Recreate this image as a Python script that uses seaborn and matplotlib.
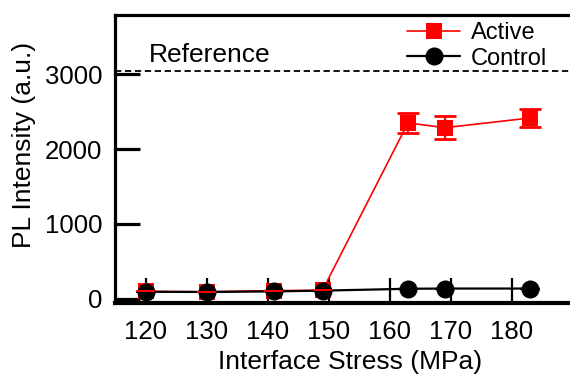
import pandas as pd
import matplotlib
matplotlib.use('Agg')
import matplotlib.pyplot as plt
import seaborn as sns

# values
stress = [120, 130, 141, 149, 163, 169, 183]
active = [100, 95, 110, 115, 2350, 2285, 2415]
active_err = [0, 0, 0, 0, 130, 155, 115]
control = [95, 92, 100, 110, 135, 138, 138]
stress_err = [1.6, 1.6, 1.6, 1.6, 1.6, 1.6, 1.6]
reference_level = 3040

df = pd.DataFrame({'stress': stress, 'active': active, 'control': control})

sns.set_style('ticks')
plt.rcParams['font.family'] = ['Liberation Sans', 'DejaVu Sans']
for key in ['text.color', 'axes.labelcolor', 'xtick.color', 'ytick.color',
            'axes.edgecolor']:
    plt.rcParams[key] = 'black'

fig = plt.figure(figsize=(5.7, 3.75), dpi=100)
# right spine sits just outside the canvas, as in the reference crop
ax = fig.add_axes([115 / 570, 1 - 303 / 375, 470 / 570, 288 / 375])

# reference level
ax.axhline(reference_level, color='black', lw=1.3, ls=(0, (3.5, 2)), zorder=1)
ax.text(120.6, 3254, 'Reference', fontsize=19, va='center', ha='left')

# horizontal bars of the control series
ax.errorbar(stress, control, xerr=stress_err, fmt='none', ecolor='black',
            elinewidth=1.6, capsize=0, zorder=2)

sns.lineplot(data=df, x='stress', y='active', ax=ax, color='red', lw=1.2,
             marker='s', markersize=11, markeredgecolor='red',
             markeredgewidth=0, label='Active', zorder=2)
sns.lineplot(data=df, x='stress', y='control', ax=ax, color='black', lw=1.6,
             marker='o', markersize=13, markeredgecolor='black',
             markeredgewidth=0, label='Control', zorder=3)

# red error bars (vertical on high points, horizontal on the low ones)
hi = [i for i, e in enumerate(active_err) if e > 0]
lo = [i for i, e in enumerate(active_err) if e == 0]
ax.errorbar([stress[i] for i in hi], [active[i] for i in hi],
            yerr=[active_err[i] for i in hi], fmt='none', ecolor='red',
            elinewidth=1.6, capsize=8, capthick=2, zorder=4)
ax.errorbar([stress[i] for i in lo], [active[i] for i in lo],
            xerr=[stress_err[i] for i in lo], fmt='none', ecolor='red',
            elinewidth=1.4, capsize=0, zorder=4)

ax.set_xlim(115, 192)
ax.set_ylim(-55, 3790)
ax.set_xticks([120, 130, 140, 150, 160, 170, 180])
ax.set_yticks([0, 1000, 2000, 3000])

ax.tick_params(axis='y', direction='in', length=18, width=2.3, pad=9,
               labelsize=18.5)
ax.tick_params(axis='x', direction='in', length=18, width=1.6, pad=12,
               labelsize=18.5)
for side in ['left', 'top', 'right']:
    ax.spines[side].set_linewidth(2.3)
ax.spines['bottom'].set_linewidth(3)

ax.set_xlabel('Interface Stress (MPa)', fontsize=19)
ax.set_ylabel('PL Intensity (a.u.)', fontsize=19)
ax.xaxis.set_label_coords((350 - 115) / 470, (303 - 362) / 288)
ax.xaxis.label.set_va('center')
ax.yaxis.set_label_coords((24 - 115) / 470, (303 - 145) / 288)
ax.yaxis.label.set_va('center')

ax.legend(loc='upper left', bbox_to_anchor=(407 / 570, 1 - 22 / 375),
          bbox_transform=fig.transFigure, frameon=False, fontsize=17,
          borderpad=0, borderaxespad=0, handlelength=2.25,
          handletextpad=0.45, labelspacing=0.15, markerscale=1.0)

fig.savefig('out.png', dpi=100)
